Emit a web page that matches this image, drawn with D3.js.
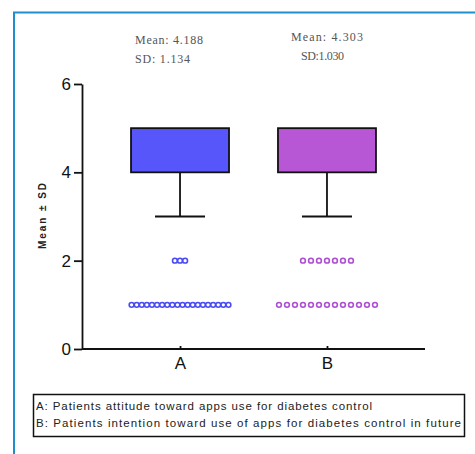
<!DOCTYPE html>
<html>
<head>
<meta charset="utf-8">
<script src="https://cdn.jsdelivr.net/npm/d3@7"></script>
<style>
  body { margin: 0; background: #fff; }
  svg { display: block; }
</style>
</head>
<body>
<svg id="chart" width="475" height="454"></svg>
<script>
// groups and their summary
var categories = ["A", "B"];
var boxLow = [4, 4];
var boxHigh = [5, 5];
var whiskerLow = [3, 3];
var meanNotes = ["Mean: 4.188", "Mean: 4.303"];
var sdNotes = ["SD: 1.134", "SD:1.030"];
// individual low responses shown as dots
var dotsA = [1,1,1,1,1,1,1,1,1,1,1,1,1,1,1,1,1,1,1,1, 2,2,2];
var dotsB = [1,1,1,1,1,1,1,1,1,1,1,1,1, 2,2,2,2,2,2,2];
var yTicks = [0, 2, 4, 6];
var legendLines = [
  "A: Patients attitude toward apps use for diabetes control",
  "B: Patients intention toward use of apps for diabetes control in future"
];

var fills = ["#5656fb", "#b757d6"];
var dotColors = ["#4b4bf5", "#ad4fd2"];
var dotGap = [5.1, 8];

var svg = d3.select("#chart");

// blue frame
svg.append("path")
    .attr("d", "M14,460 L14,12.5 L480,12.5")
    .attr("fill", "none")
    .attr("stroke", "#1f8fcc")
    .attr("stroke-width", 2);

var x = d3.scalePoint()
    .domain(categories)
    .range([82, 425])
    .padding(0.667);

var y = d3.scaleLinear()
    .domain([0, 6])
    .range([349, 84]);

var boxW = 98, capW = 50;

// y axis
var yAxis = svg.append("g")
    .attr("transform", "translate(82,0)")
    .call(d3.axisLeft(y).tickValues(yTicks).tickFormat(d3.format("d"))
      .tickSize(8).tickPadding(3).tickSizeOuter(0));
yAxis.select(".domain").attr("stroke", "#111").attr("stroke-width", 1.8);
yAxis.selectAll(".tick line").attr("stroke", "#111").attr("stroke-width", 1.8);
yAxis.selectAll("text")
    .attr("font-family", "Liberation Sans, Arial, sans-serif")
    .attr("font-size", 17)
    .attr("fill", "#111");

// x axis
var xAxis = svg.append("g")
    .attr("transform", "translate(0," + y(0) + ")")
    .call(d3.axisBottom(x).tickSize(-3).tickPadding(8).tickSizeOuter(0));
xAxis.select(".domain").attr("d", "M82,0H425").attr("stroke", "#111").attr("stroke-width", 1.8);
xAxis.selectAll(".tick line").attr("stroke", "#111").attr("stroke-width", 1.8);
xAxis.selectAll("text")
    .attr("font-family", "Liberation Sans, Arial, sans-serif")
    .attr("font-size", 17)
    .attr("fill", "#111");

// y label
svg.append("text")
    .attr("transform", "translate(46,216) rotate(-90)")
    .attr("text-anchor", "middle")
    .attr("font-family", "Liberation Sans, Arial, sans-serif")
    .attr("font-size", 10)
    .attr("font-weight", "bold")
    .attr("fill", "#222")
    .attr("textLength", 66)
    .attr("lengthAdjust", "spacing")
    .text("Mean \u00B1 SD");

// whiskers and boxes
var g = svg.append("g");
categories.forEach(function(c, i) {
  var cx = x(c);
  g.append("line")
      .attr("x1", cx).attr("x2", cx)
      .attr("y1", y(boxLow[i])).attr("y2", y(whiskerLow[i]))
      .attr("stroke", "#111").attr("stroke-width", 1.8);
  g.append("line")
      .attr("x1", cx - capW / 2).attr("x2", cx + capW / 2)
      .attr("y1", y(whiskerLow[i])).attr("y2", y(whiskerLow[i]))
      .attr("stroke", "#111").attr("stroke-width", 1.8);
  g.append("rect")
      .attr("x", cx - boxW / 2)
      .attr("y", y(boxHigh[i]))
      .attr("width", boxW)
      .attr("height", y(boxLow[i]) - y(boxHigh[i]))
      .attr("fill", fills[i])
      .attr("stroke", "#111")
      .attr("stroke-width", 1.8);
});

// dots, laid out in centered rows per value
[dotsA, dotsB].forEach(function(vals, i) {
  var cx = x(categories[i]);
  var counts = d3.rollup(vals, function(v) { return v.length; }, function(d) { return d; });
  var seen = new Map();
  var pts = vals.map(function(v) {
    var k = seen.get(v) || 0;
    seen.set(v, k + 1);
    var n = counts.get(v);
    return { v: v, dx: (k - (n - 1) / 2) * dotGap[i] };
  });
  svg.append("g").selectAll("circle")
    .data(pts)
    .enter().append("circle")
      .attr("cx", function(d) { return cx + d.dx; })
      .attr("cy", function(d) { return y(d.v); })
      .attr("r", 2.4)
      .attr("fill", "#fff")
      .attr("stroke", dotColors[i])
      .attr("stroke-width", 1.6);
});

// mean / sd notes
var noteFont = { family: "Liberation Serif, Times New Roman, serif", size: 12 };
var noteMeanX = [135, 291], noteMeanY = [44, 41], noteMeanW = [68, 72];
var noteSdX = [135, 301], noteSdY = [63, 60], noteSdW = [55, 43];
categories.forEach(function(c, i) {
  svg.append("text")
      .attr("x", noteMeanX[i]).attr("y", noteMeanY[i])
      .attr("font-family", noteFont.family).attr("font-size", noteFont.size)
      .attr("fill", "#555")
      .attr("textLength", noteMeanW[i]).attr("lengthAdjust", "spacing")
      .text(meanNotes[i]);
  svg.append("text")
      .attr("x", noteSdX[i]).attr("y", noteSdY[i])
      .attr("font-family", noteFont.family).attr("font-size", noteFont.size)
      .attr("fill", "#555")
      .attr("textLength", noteSdW[i]).attr("lengthAdjust", "spacing")
      .text(sdNotes[i]);
});

// legend box
svg.append("rect")
    .attr("x", 33.5).attr("y", 394.5)
    .attr("width", 431).attr("height", 42)
    .attr("fill", "#fff")
    .attr("stroke", "#111")
    .attr("stroke-width", 1.5);
var legendW = [336, 425];
svg.append("g").selectAll("text")
  .data(legendLines)
  .enter().append("text")
    .attr("x", 36)
    .attr("y", function(d, i) { return 410 + i * 17; })
    .attr("font-family", "Liberation Sans, Arial, sans-serif")
    .attr("font-size", 11.5)
    .attr("fill", "#222")
    .attr("textLength", function(d, i) { return legendW[i]; })
    .attr("lengthAdjust", "spacing")
    .text(function(d) { return d; });
</script>
</body>
</html>
